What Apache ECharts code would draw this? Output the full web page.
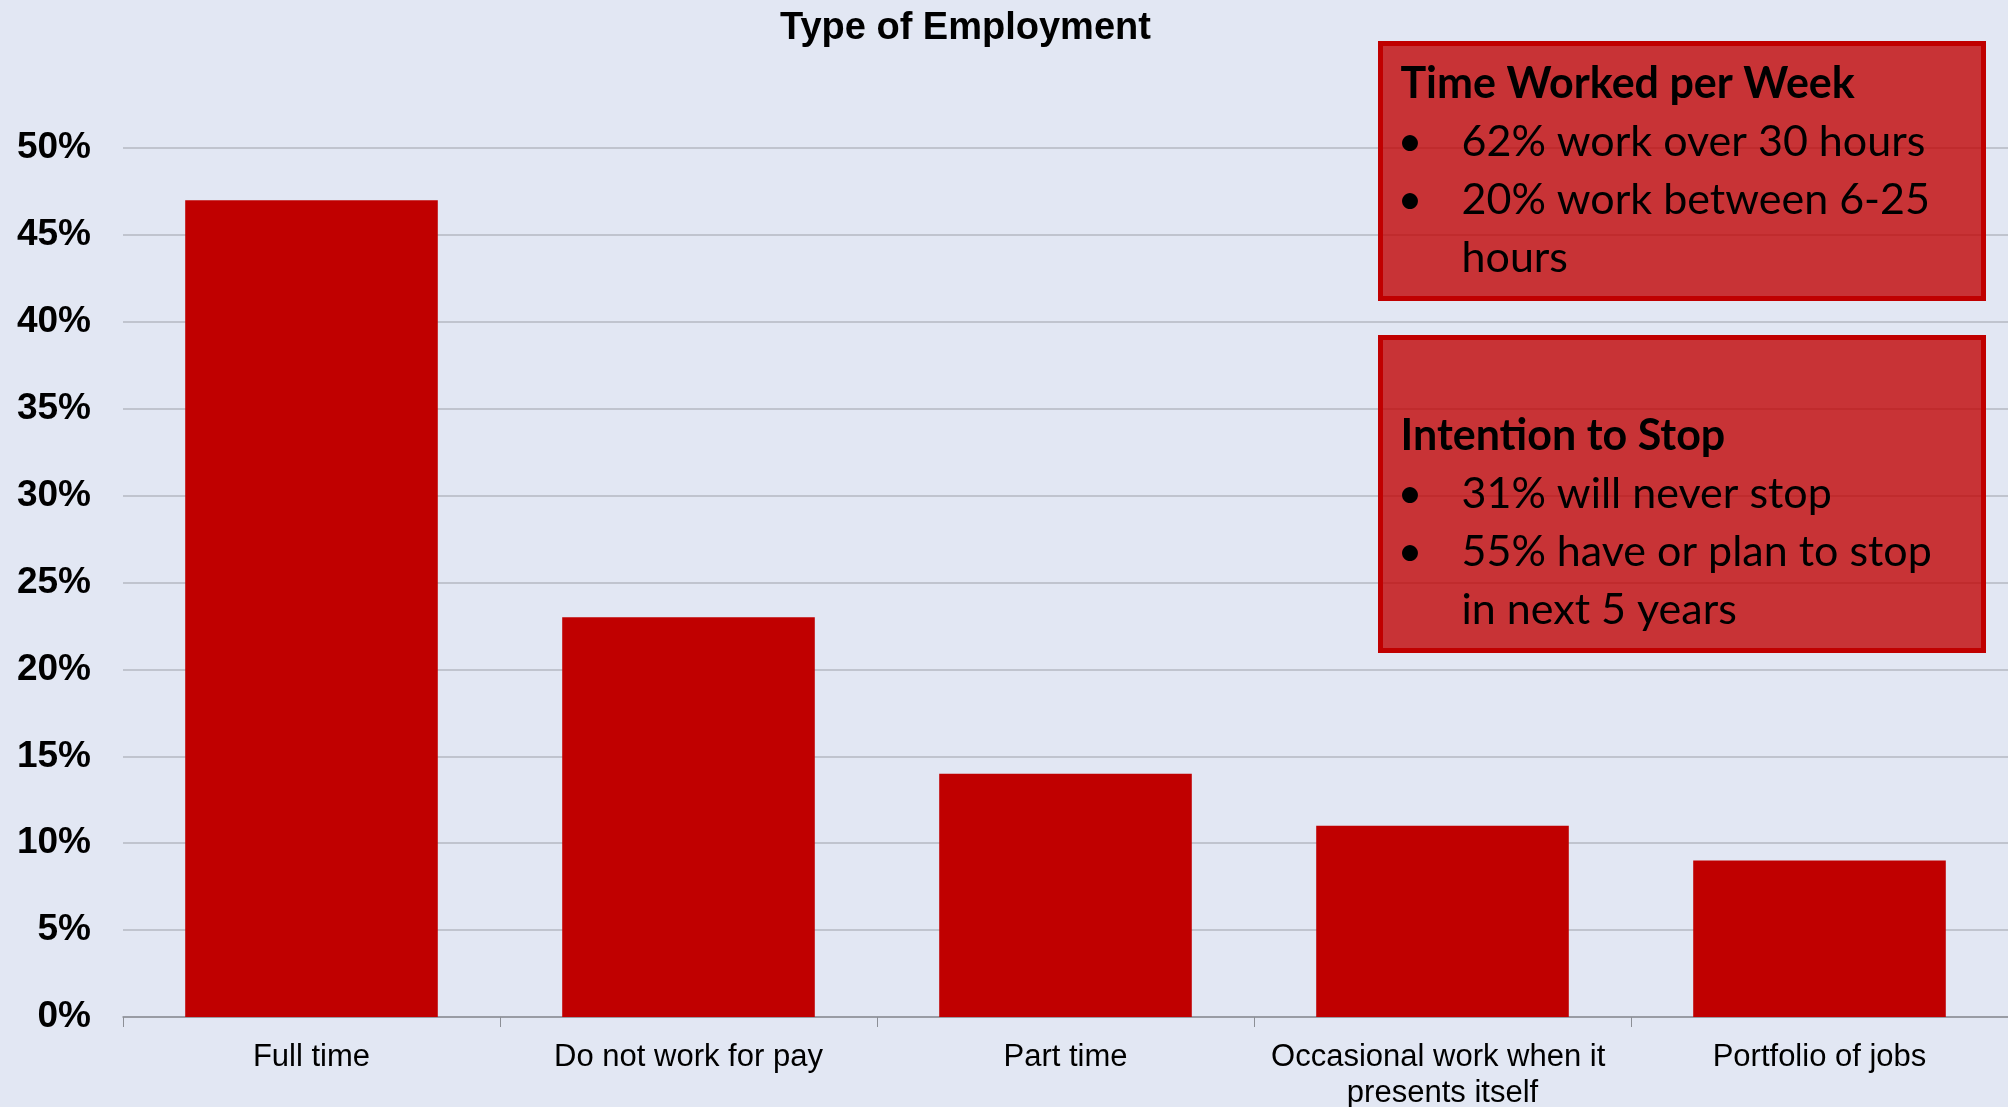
<!DOCTYPE html>
<html>
<head>
<meta charset="utf-8">
<script src="https://cdn.jsdelivr.net/npm/echarts@6/dist/echarts.min.js"></script>
<style>
  html, body { margin: 0; padding: 0; background: #e2e7f3; }
  #container { width: 2008px; height: 1107px; }
</style>
</head>
<body>
<div id="container"></div>
<script>
const categories = ['Full time', 'Do not work for pay', 'Part time', 'Occasional work when it presents itself', 'Portfolio of jobs']
const shares = [47, 23, 14, 11, 9]

const hoursTitle = 'Time Worked per Week'
const hoursNotes = ['62% work over 30 hours', '20% work between 6-25', 'hours']
const stopTitle = 'Intention to Stop'
const stopNotes = ['31% will never stop', '55% have or plan to stop', 'in next 5 years']

const noteFont = 'Lato, "Open Sans", sans-serif'

// one red box with a bold heading and bullet lines
const noteBox = (top, height, headY, title, lines, bulletRows) => {
    let children = [{
        type: 'rect',
        z: 100,
        shape: { x: 0, y: 0, width: 603, height: height },
        style: { fill: 'rgba(192,0,0,0.78)', stroke: '#c00000', lineWidth: 5 }
    }, {
        type: 'text',
        z: 101,
        x: 20, y: headY,
        style: { text: title, font: 'bold 43px ' + noteFont, fill: '#000', verticalAlign: 'middle' }
    }]
    lines.forEach((line, i) => {
        let y = headY + 58 * (i + 1)
        if (bulletRows.indexOf(i) >= 0) {
            children.push({
                type: 'text', z: 101, x: 17, y: y,
                style: { text: '•', font: '43px ' + noteFont, fill: '#000', verticalAlign: 'middle' }
            })
        }
        children.push({
            type: 'text', z: 101, x: 81, y: y,
            style: { text: line, font: '43px ' + noteFont, fill: '#000', verticalAlign: 'middle' }
        })
    })
    return { type: 'group', left: 1378, top: top, z: 100, children: children }
}

let chart = echarts.init(document.getElementById('container'))

chart.setOption({
    backgroundColor: '#e2e7f3',
    animation: false,
    title: {
        text: 'Type of Employment',
        left: 775,
        top: 5,
        textStyle: { fontFamily: 'Liberation Sans, Arial', fontWeight: 'bold', fontSize: 38, color: '#000' }
    },
    grid: { left: 123, right: 0, top: 148, bottom: 90, outerBoundsMode: 'none' },
    xAxis: {
        type: 'category',
        data: categories,
        axisLine: { lineStyle: { color: '#8c8f96', width: 1.5 } },
        axisTick: { show: true, length: 10, lineStyle: { color: '#8c8f96' } },
        axisLabel: {
            fontFamily: 'Liberation Sans, Arial',
            fontSize: 31,
            color: '#000',
            margin: 22,
            lineHeight: 36,
            width: 360,
            overflow: 'break',
            interval: 0
        }
    },
    yAxis: {
        type: 'value',
        min: 0,
        max: 50,
        interval: 5,
        axisLine: { show: false },
        axisTick: { show: false },
        splitLine: { lineStyle: { color: '#b4b8c2', width: 1.5 } },
        axisLabel: {
            formatter: '{value}%',
            fontFamily: 'Liberation Sans, Arial',
            fontWeight: 'bold',
            fontSize: 37,
            color: '#000',
            margin: 32
        }
    },
    series: [{
        type: 'bar',
        data: shares,
        barCategoryGap: '33%',
        itemStyle: { color: '#c00000' }
    }],
    graphic: [
        noteBox(41, 255, 41, hoursTitle, hoursNotes, [0, 1]),
        noteBox(335, 313, 99, stopTitle, stopNotes, [0, 1])
    ]
})
</script>
</body>
</html>
